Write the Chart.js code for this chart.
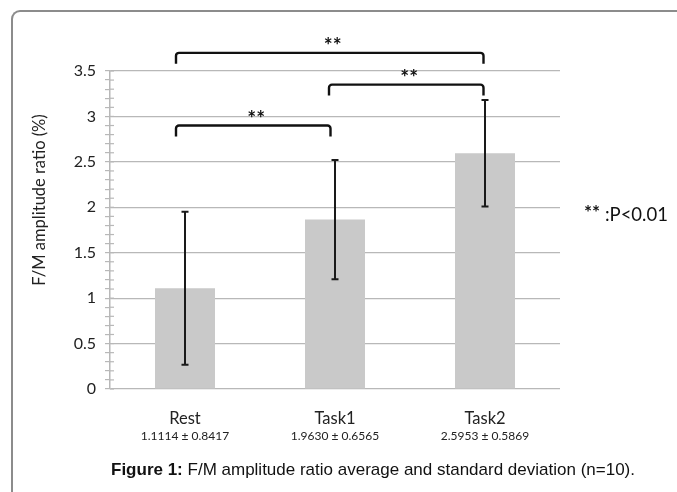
<!DOCTYPE html>
<html>
<head>
<meta charset="utf-8">
<script src="https://cdn.jsdelivr.net/npm/chart.js@4.4.1/dist/chart.umd.min.js"></script>
<style>
  html, body { margin: 0; padding: 0; background: #fff; }
  #wrap { position: relative; width: 677px; height: 492px; overflow: hidden; }
  #frame { position: absolute; left: 11px; top: 10px; width: 720px; height: 540px;
           border-left: 2px solid #8c8c8c; border-top: 2px solid #8c8c8c;
           border-top-left-radius: 9px; box-sizing: border-box; }
  canvas { position: absolute; left: 0; top: 0; }
  #note { position: absolute; left: 584px; top: 202px; font: 18.5px Lato; color: #111; white-space: nowrap; }
  #note b { font-size: 19px; position: relative; top: -2px; }
  #caption { position: absolute; left: 111px; top: 460px; font: 17px "Liberation Sans"; color: #111; white-space: nowrap; }
</style>
</head>
<body>
<div id="wrap">
  <div id="frame"></div>
  <canvas id="graph" width="677" height="492"></canvas>
  <div id="note"><b>**</b> :P&lt;0.01</div>
  <div id="caption"><b>Figure 1:</b> F/M amplitude ratio average and standard deviation (n=10).</div>
</div>
<script>
// --- données ---
const categories = ['Rest', 'Task1', 'Task2'];
const means = [1.11, 1.865, 2.595];        // hauteur des barres
const sds = [0.842, 0.656, 0.587];         // écart-type (barres d'erreur)
const statLabels = ['1.1114 ± 0.8417', '1.9630 ± 0.6565', '2.5953 ± 0.5869'];

const yMin = 0, yMax = 3.5, yMajor = 0.5, yMinor = 0.1;
const yTitle = 'F/M amplitude ratio (%)';

// comparaisons significatives (indices de catégorie) et hauteur du crochet
const bracketFrom = [-0.06, 0.96, -0.06];
const bracketTo = [0.97, 1.99, 1.99];
const bracketLevel = [2.90, 3.35, 3.70];
const bracketLabels = ['**', '**', '**'];
const bracketLeg = 0.12;

function isMajor(v) {
    return Math.abs(v / yMajor - Math.round(v / yMajor)) < 1e-6;
}

// barres d'erreur, crochets, sous-étiquettes, titre de l'axe
const extras = {
    id: 'extras',
    afterDatasetsDraw(chart) {
        const ctx = chart.ctx;
        const x = chart.scales.x, y = chart.scales.y;
        ctx.save();
        ctx.strokeStyle = '#1a1a1a';
        ctx.lineWidth = 2;
        means.forEach((m, i) => {
            const px = x.getPixelForValue(i);
            const top = y.getPixelForValue(m + sds[i]);
            const bot = y.getPixelForValue(m - sds[i]);
            ctx.beginPath();
            ctx.moveTo(px, top); ctx.lineTo(px, bot);
            ctx.moveTo(px - 3.5, top); ctx.lineTo(px + 3.5, top);
            ctx.moveTo(px - 3.5, bot); ctx.lineTo(px + 3.5, bot);
            ctx.stroke();
        });
        ctx.restore();
    },
    afterDraw(chart) {
        const ctx = chart.ctx;
        const x = chart.scales.x, y = chart.scales.y;
        ctx.save();

        // petites graduations à droite de l'axe
        ctx.strokeStyle = '#b8b8b8';
        ctx.lineWidth = 1.2;
        y.ticks.forEach(t => {
            const py = y.getPixelForValue(t.value);
            ctx.beginPath();
            ctx.moveTo(chart.chartArea.left, py);
            ctx.lineTo(chart.chartArea.left + 4, py);
            ctx.stroke();
        });

        // crochets de significativité
        ctx.strokeStyle = '#111';
        ctx.fillStyle = '#111';
        ctx.lineWidth = 2.4;
        ctx.font = 'bold 21px Lato';
        ctx.textAlign = 'center';
        ctx.textBaseline = 'alphabetic';
        bracketLevel.forEach((lvl, i) => {
            const x1 = x.getPixelForValue(bracketFrom[i]);
            const x2 = x.getPixelForValue(bracketTo[i]);
            const yl = y.getPixelForValue(lvl);
            const yb = y.getPixelForValue(lvl - bracketLeg);
            ctx.beginPath();
            ctx.moveTo(x1, yb);
            ctx.arcTo(x1, yl, x2, yl, 3);
            ctx.arcTo(x2, yl, x2, yb, 3);
            ctx.lineTo(x2, yb);
            ctx.stroke();
            ctx.fillText(bracketLabels[i], (x1 + x2) / 2 + 3, yl);
        });

        // moyenne ± écart-type sous chaque catégorie
        ctx.fillStyle = '#222';
        ctx.font = '12px Lato';
        ctx.textBaseline = 'middle';
        statLabels.forEach((s, i) => {
            ctx.fillText(s, x.getPixelForValue(i), 436);
        });

        // titre de l'axe Y
        ctx.font = '16.5px Lato';
        ctx.translate(40, 200);
        ctx.rotate(-Math.PI / 2);
        ctx.fillText(yTitle, 0, 0);
        ctx.restore();
    }
};

new Chart(document.getElementById('graph'), {
    type: 'bar',
    data: {
        labels: categories,
        datasets: [{
            data: means,
            backgroundColor: '#c9c9c9',
            barPercentage: 0.4,
            categoryPercentage: 1.0
        }]
    },
    options: {
        responsive: false,
        animation: false,
        devicePixelRatio: 1,
        layout: { padding: { top: 71, right: 117, left: 0, bottom: 0 } },
        plugins: { legend: { display: false }, tooltip: { enabled: false } },
        scales: {
            x: {
                grid: { display: false },
                border: { display: false },
                ticks: { color: '#222', font: { family: 'Lato', size: 16.5 }, padding: 12 },
                afterFit: s => { s.height = 103; }
            },
            y: {
                min: yMin,
                max: yMax,
                ticks: {
                    stepSize: yMinor,
                    autoSkip: false,
                    color: '#222',
                    font: { family: 'Lato', size: 16 },
                    padding: 9,
                    callback: v => isMajor(v) ? String(Math.round(v * 10) / 10) : ''
                },
                grid: {
                    color: c => (c.tick && isMajor(c.tick.value)) ? '#b8b8b8' : 'rgba(0,0,0,0)',
                    tickColor: '#b8b8b8',
                    tickLength: 5,
                    lineWidth: 1.2
                },
                border: { color: '#b8b8b8', width: 1.5 },
                afterFit: s => { s.width = 110; }
            }
        }
    },
    plugins: [extras]
});
</script>
</body>
</html>
